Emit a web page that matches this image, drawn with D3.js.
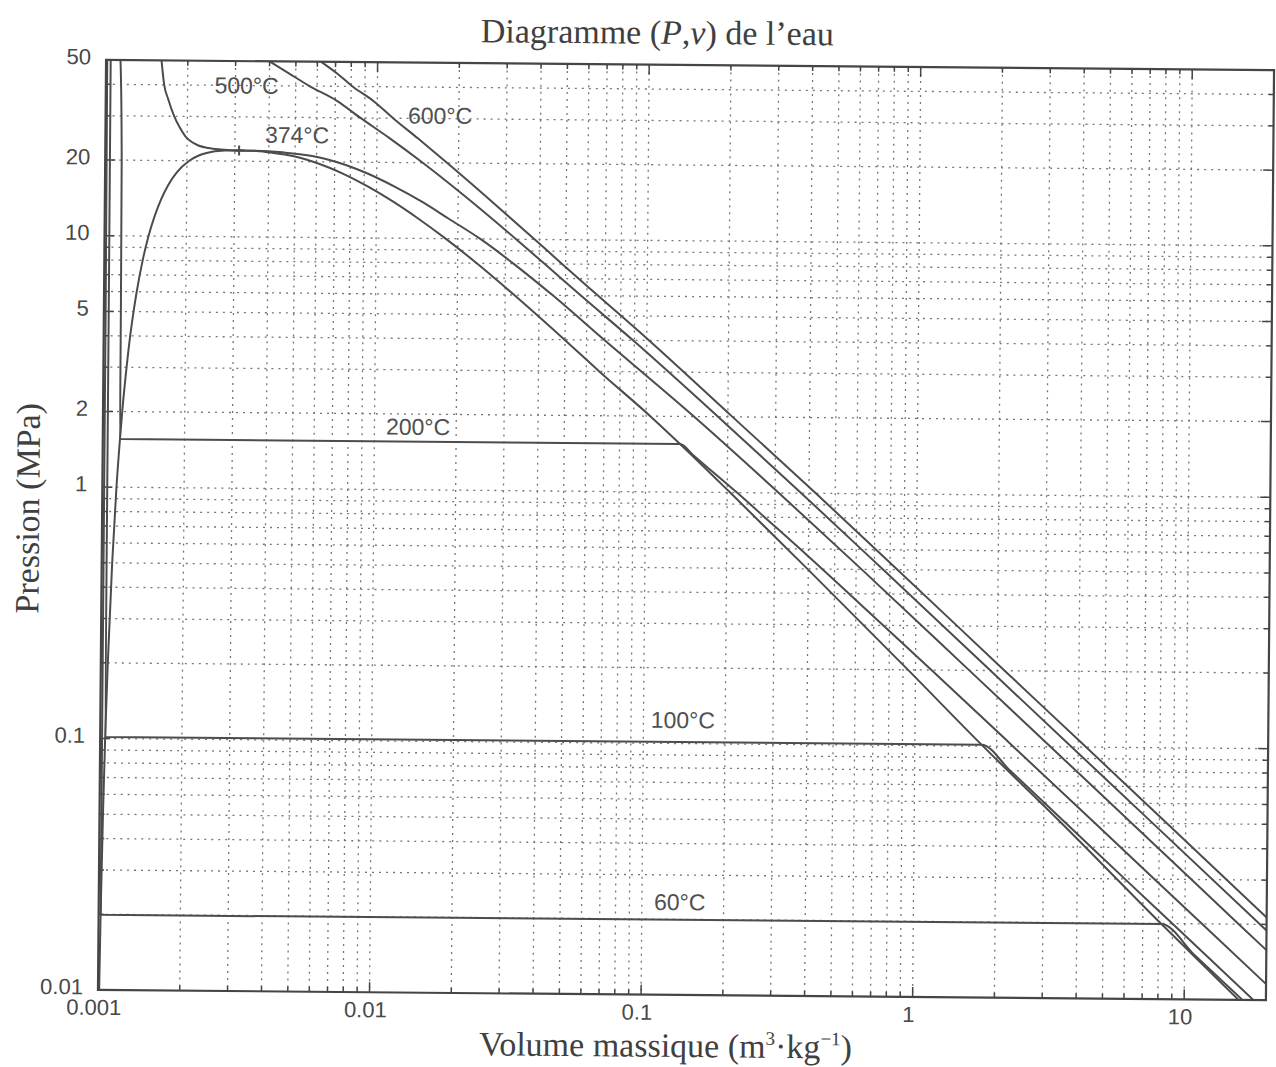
<!DOCTYPE html>
<html>
<head>
<meta charset="utf-8">
<script src="https://cdn.jsdelivr.net/npm/d3@7"></script>
<style>
  body { margin: 0; background: #fff; }
  svg { display: block; }
  .tick-label { font-family: "Liberation Sans", Arial, sans-serif; font-size: 22px; fill: #484848; }
  .axis-title { font-family: "Liberation Serif", "Times New Roman", serif; font-size: 34px; fill: #404040; }
  .iso-label { font-family: "Liberation Sans", Arial, sans-serif; font-size: 23px; fill: #505050; }
  .curve { fill: none; stroke: #4c4c4c; stroke-width: 2; stroke-linejoin: round; }
  .grid line { stroke: #767676; stroke-width: 1.3; stroke-dasharray: 2,5; }
  .frame { fill: none; stroke: #454545; stroke-width: 2.2; }
  .ticks line { stroke: #454545; stroke-width: 1.5; }
</style>
</head>
<body>
<div id="chart"></div>
<script>
// axis ticks
const xTicks = [0.001, 0.01, 0.1, 1, 10];
const xTickLabels = ['0.001', '0.01', '0.1', '1', '10'];
const yTicks = [0.01, 0.1, 1, 2, 5, 10, 20, 50];
const yTickLabels = ['0.01', '0.1', '1', '2', '5', '10', '20', '50'];

// curves, [v (m3/kg), P (MPa)]
const saturation = [[0.00101,0.01],[0.001017,0.02],[0.00103,0.05],[0.001043,0.1],[0.001061,0.2],[0.001093,0.5],
  [0.001127,1],[0.001157,1.554],[0.001177,2],[0.001217,3],[0.001252,4],[0.001286,5],[0.001319,6],[0.001384,8],
  [0.001452,10],[0.001527,12],[0.001611,14],[0.00171,16],[0.00184,18],[0.00204,20],[0.00221,21],[0.00236,21.5],
  [0.00275,22.0],[0.00311,22.06],[0.0036,22.0],[0.0043,21.5],[0.00495,21],[0.00583,20],[0.00666,19],[0.0075,18],
  [0.00931,16],[0.01149,14],[0.01426,12],[0.01803,10],[0.02352,8],[0.0324,6],[0.0498,4],[0.067,3],[0.1036,2],
  [0.1336,1.554],[0.2051,1],[0.397,0.5],[0.939,0.2],[1.76,0.1014],[3.47,0.05],[8.2,0.0199],[15.85,0.01]];
const iso60 = [[0.00101,50],[0.001015,5],[0.001017,0.0199],[8.2,0.0199],[10.9,0.015],[16.4,0.01]];
const iso100 = [[0.00104,50],[0.001042,5],[0.001043,0.1014],[1.76,0.1014],[2.25,0.08],[3.6,0.05],[5.99,0.03],
  [8.99,0.02],[11.99,0.015],[17.98,0.01]];
const iso200 = [[0.00113,50],[0.00115,20],[0.001155,5],[0.001157,1.554],[0.1336,1.554],[0.150,1.4],[0.1778,1.2],
  [0.2173,1.0],[0.275,0.8],[0.373,0.6],[0.566,0.4],[1.145,0.2],[2.302,0.1],[4.617,0.05],[11.56,0.02],[20,0.01158]];
const iso374 = [[0.0016,50],[0.00164,40],[0.0017,35],[0.00179,30],[0.00188,27],[0.00197,25],[0.00205,24],
  [0.0022,23],[0.0024,22.5],[0.0029,22.1],[0.0031,22.06],[0.0034,22.03],[0.0040,21.95],[0.0046,21.7],[0.0052,21.4],
  [0.0059,21],[0.0071,20],[0.0082,19],[0.0093,18],[0.0117,16],[0.0147,14],[0.0185,12],[0.0242,10],[0.0321,8],
  [0.0449,6],[0.0698,4],[0.150,2],[0.310,1],[0.629,0.5],[1.578,0.2],[3.16,0.1],[6.33,0.05],[15.8,0.02],[20,0.0158]];
const iso500 = [[0.0040,50],[0.0047,45],[0.00562,40],[0.0071,35],[0.00868,30],[0.01112,25],[0.01477,20],[0.0208,15],
  [0.0328,10],[0.0418,8],[0.0570,6],[0.0890,4],[0.184,2],[0.375,1],[0.754,0.5],[1.888,0.2],[3.78,0.1],[7.57,0.05],[20,0.0189]];
const iso600 = [[0.0062,50],[0.0071,45],[0.0081,40],[0.0097,35],[0.01145,30],[0.01414,25],[0.01818,20],[0.0249,15],
  [0.0384,10],[0.0485,8],[0.0660,6],[0.102,4],[0.208,2],[0.424,1],[0.852,0.5],[2.13,0.2],[4.27,0.1],[8.54,0.05],[20,0.0213]];
const criticalPoint = [0.00311, 22.06];

const curves = [saturation, iso60, iso100, iso200, iso374, iso500, iso600];
const isoNames = ['60°C', '100°C', '200°C', '374°C', '500°C', '600°C'];

const W = 1276, H = 1067;
const frame = {left: 102, right: 1270, top: 65, bottom: 995};
const tilt = 0.5; // the scanned page sits slightly rotated

const svg = d3.select('#chart').append('svg').attr('width', W).attr('height', H);
svg.append('rect').attr('width', W).attr('height', H).attr('fill', '#fff');
const root = svg.append('g').attr('transform', `rotate(${tilt},685,530)`);

const x = d3.scaleLog().domain([0.001, 20]).range([frame.left, frame.right]);
const y = d3.scaleLog().domain([0.01, 50]).range([frame.bottom, frame.top]);

// dotted log grid
const grid = root.append('g').classed('grid', true);
const xGrid = x.ticks().filter(v => v > 0.001 * 1.001 && v < 20 * 0.999);
const yGrid = y.ticks().filter(v => v > 0.01 * 1.001 && v < 50 * 0.999);
grid.selectAll('line.v').data(xGrid).join('line').classed('v', true)
  .attr('x1', d => x(d)).attr('x2', d => x(d)).attr('y1', frame.top).attr('y2', frame.bottom);
grid.selectAll('line.h').data(yGrid).join('line').classed('h', true)
  .attr('y1', d => y(d)).attr('y2', d => y(d)).attr('x1', frame.left).attr('x2', frame.right);

// tick marks inside the box, on all four sides
const ticks = root.append('g').classed('ticks', true);
const isMajorX = v => xTicks.some(t => Math.abs(t - v) / t < 1e-6);
const isMajorY = v => yTicks.some(t => Math.abs(t - v) / t < 1e-6);
const tlen = major => major ? 10 : 5;
xGrid.forEach(v => {
  const L = tlen(isMajorX(v));
  ticks.append('line').attr('x1', x(v)).attr('x2', x(v)).attr('y1', frame.bottom).attr('y2', frame.bottom - L);
  ticks.append('line').attr('x1', x(v)).attr('x2', x(v)).attr('y1', frame.top).attr('y2', frame.top + L);
});
yGrid.forEach(v => {
  const L = tlen(isMajorY(v));
  ticks.append('line').attr('y1', y(v)).attr('y2', y(v)).attr('x1', frame.left).attr('x2', frame.left + L);
  ticks.append('line').attr('y1', y(v)).attr('y2', y(v)).attr('x1', frame.right).attr('x2', frame.right - L);
});

// curves
root.append('clipPath').attr('id', 'plot-clip').append('rect')
  .attr('x', frame.left).attr('y', frame.top)
  .attr('width', frame.right - frame.left).attr('height', frame.bottom - frame.top);
const line = d3.line().x(d => x(d[0])).y(d => y(d[1])).curve(d3.curveMonotoneX);
const plot = root.append('g').attr('clip-path', 'url(#plot-clip)');
plot.selectAll('path.curve').data(curves).join('path').classed('curve', true).attr('d', line);

// small cross on the critical point
const [cx, cy] = [x(criticalPoint[0]), y(criticalPoint[1])];
plot.append('path').classed('curve', true).attr('stroke-width', 1.5)
  .attr('d', `M${cx - 5},${cy}H${cx + 5}M${cx},${cy - 5}V${cy + 5}`);

// isotherm labels, placed in data coordinates
const labelAt = [[0.1378, 0.0234], [0.1396, 0.124], [0.01448, 1.78], [0.00508, 25.5], [0.0033, 40], [0.01705, 30.8]];
root.selectAll('text.iso-label').data(isoNames).join('text').classed('iso-label', true)
  .attr('x', (d, i) => x(labelAt[i][0])).attr('y', (d, i) => y(labelAt[i][1]))
  .attr('text-anchor', 'middle').attr('dominant-baseline', 'central')
  .text(d => d);

// frame
root.append('rect').classed('frame', true)
  .attr('x', frame.left).attr('y', frame.top)
  .attr('width', frame.right - frame.left).attr('height', frame.bottom - frame.top);

// tick labels
root.selectAll('text.xl').data(xTicks).join('text').classed('tick-label', true)
  .attr('x', d => x(d) - 4).attr('y', frame.bottom + 25)
  .attr('text-anchor', 'middle').text((d, i) => xTickLabels[i]);
root.selectAll('text.yl').data(yTicks).join('text').classed('tick-label', true)
  .attr('x', frame.left - 15).attr('y', d => y(d) - 3)
  .attr('text-anchor', 'end').attr('dominant-baseline', 'central').text((d, i) => yTickLabels[i]);

// titles
const title = root.append('text').classed('axis-title', true)
  .attr('x', 653).attr('y', 44).attr('text-anchor', 'middle');
title.append('tspan').text('Diagramme (');
title.append('tspan').attr('font-style', 'italic').text('P');
title.append('tspan').text(',');
title.append('tspan').attr('font-style', 'italic').text('v');
title.append('tspan').text(') de l’eau');

const xTitle = root.append('text').classed('axis-title', true)
  .attr('x', 670).attr('y', 1057).attr('text-anchor', 'middle');
xTitle.append('tspan').text('Volume massique (m');
xTitle.append('tspan').attr('font-size', '19px').attr('dy', -13).text('3');
xTitle.append('tspan').attr('dy', 13).text('·kg');
xTitle.append('tspan').attr('font-size', '19px').attr('dy', -13).text('−1');
xTitle.append('tspan').attr('dy', 13).text(')');

root.append('text').classed('axis-title', true)
  .attr('transform', 'translate(39,514) rotate(-90)')
  .attr('text-anchor', 'middle').text('Pression (MPa)');
</script>
</body>
</html>
